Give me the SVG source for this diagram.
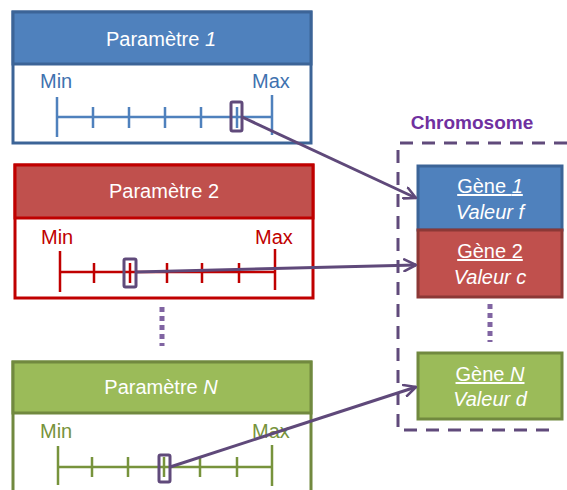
<svg xmlns="http://www.w3.org/2000/svg" width="567" height="490" viewBox="0 0 567 490">
<defs>
<style>
text{font-family:"Liberation Sans",Arial,sans-serif;font-size:20px}
.t{fill:#fff;text-anchor:middle}
.body{fill:#fff;stroke-width:3}
.b{stroke:#3C6497}.r{stroke:#C00000}.g{stroke:#71893F}
.bf{fill:#4F81BD;stroke:#3C6497;stroke-width:3}
.rf{fill:#C0504D;stroke:#C00000;stroke-width:3}
.gf{fill:#9BBB59;stroke:#71893F;stroke-width:3}
.rf2{fill:#C0504D;stroke:#8C3836;stroke-width:3}
.ax{fill:none;stroke-width:2.5}
.axb{stroke:#4F81BD}.axr{stroke:#C00000}.axg{stroke:#77933C}
.cur{fill:none;stroke:#604A7B;stroke-width:3}
.conn{stroke:#5F497A;stroke-width:3;fill:none}
.dots{stroke:#8064A2;stroke-width:5;stroke-dasharray:5 4;fill:none}
</style>
<marker id="ah" viewBox="0 0 12 12" refX="11" refY="6" markerWidth="14" markerHeight="14" markerUnits="userSpaceOnUse" orient="auto">
<path d="M1,1 L11,6 L1,11" fill="none" stroke="#5F497A" stroke-width="2.2" stroke-linecap="round" stroke-linejoin="round"/>
</marker>
</defs>

<g id="param1">
<rect class="body b" x="13" y="12" width="298" height="131"/>
<rect class="bf" x="13" y="12" width="298" height="52"/>
<text class="t" x="161" y="46">Paramètre <tspan font-style="italic">1</tspan></text>
<text x="40" y="88" fill="#3F72AF">Min</text>
<text x="252" y="88" fill="#3F72AF">Max</text>
<g class="ax axb">
<path d="M57,97V137M272,95V135M57,117H272M93,107V128M129,107V128M165,107V128M201,107V128M237,107V128"/>
</g>
<rect class="cur" x="231" y="102" width="11" height="29" rx="1.5"/>
</g>

<g id="param2">
<rect class="body r" x="15" y="165" width="298" height="133"/>
<rect class="rf" x="15" y="165" width="298" height="53"/>
<text class="t" x="164" y="198">Paramètre 2</text>
<text x="41" y="244" fill="#C00000">Min</text>
<text x="255" y="244" fill="#C00000">Max</text>
<g class="ax axr">
<path d="M60,251V292M275,249V290M60,272H275M94,263V283M130,263V283M167,263V283M202,263V283M239,263V283"/>
</g>
<rect class="cur" x="124" y="259" width="12" height="28" rx="1.5"/>
</g>

<g id="dots-left">
<path class="dots" d="M162,307V346"/>
</g>

<g id="paramN">
<rect class="body g" x="13" y="362" width="298" height="140"/>
<rect class="gf" x="13" y="362" width="298" height="51"/>
<text class="t" x="161" y="394">Paramètre <tspan font-style="italic">N</tspan></text>
<text x="40" y="438" fill="#77933C">Min</text>
<text x="252" y="438" fill="#77933C">Max</text>
<g class="ax axg">
<path d="M58,446V485M272,445V486M58,467H272M92,457V477M128,457V477M164,457V477M200,457V477M237,457V477"/>
</g>
<rect class="cur" x="159" y="455" width="11" height="27" rx="1.5"/>
</g>

<g id="chromosome">
<text x="472" y="129" font-weight="bold" font-size="19" fill="#7030A0" text-anchor="middle" style="font-size:19px">Chromosome</text>
<path d="M567,143H398V430H558" fill="none" stroke="#604A7B" stroke-width="3" stroke-dasharray="13 9"/>
</g>

<g id="gene1">
<rect class="bf" x="418" y="166" width="144" height="64"/>
<text class="t" x="490" y="193" text-decoration="underline">Gène <tspan font-style="italic">1</tspan></text>
<text class="t" x="490" y="219" font-style="italic">Valeur f</text>
</g>

<g id="gene2">
<rect class="rf2" x="418" y="230" width="144" height="67"/>
<text class="t" x="490" y="258" text-decoration="underline">Gène 2</text>
<text class="t" x="490" y="284" font-style="italic">Valeur c</text>
</g>

<g id="dots-right">
<path class="dots" d="M490,304V342"/>
</g>

<g id="geneN">
<rect class="gf" x="418" y="353" width="144" height="66"/>
<text class="t" x="490" y="381" text-decoration="underline">Gène <tspan font-style="italic">N</tspan></text>
<text class="t" x="490" y="406" font-style="italic">Valeur d</text>
</g>

<g id="connectors">
<path class="conn" d="M242,117L416,198" marker-end="url(#ah)"/>
<path class="conn" d="M136,272L416,265" marker-end="url(#ah)"/>
<path class="conn" d="M170,467L416,387" marker-end="url(#ah)"/>
</g>
</svg>
